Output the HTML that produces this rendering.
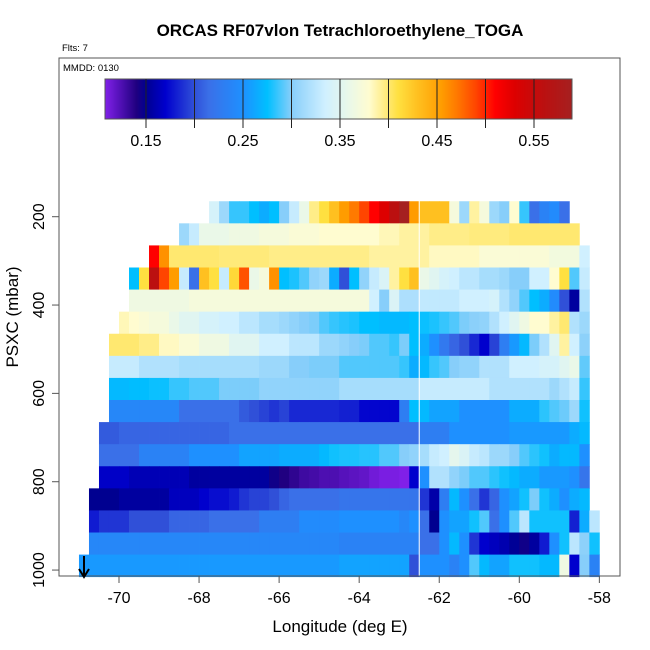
<!DOCTYPE html>
<html><head><meta charset="utf-8"><style>
body{margin:0;background:#fff}
svg{display:block;font-family:"Liberation Sans",sans-serif}
</style></head><body>
<svg id="c" width="650" height="650" viewBox="0 0 650 650">
<text x="340" y="36" text-anchor="middle" font-size="17" font-weight="bold">ORCAS RF07vlon Tetrachloroethylene_TOGA</text>
<text x="62" y="51" font-size="9.5">Flts: 7</text>
<g id="cells"></g>
<g id="cbar"></g>
<rect x="59" y="58" width="561" height="518" fill="none" stroke="#555" stroke-width="1"/>
<text x="63" y="71" font-size="9.5">MMDD: 0130</text>
<g id="axes"></g>
<text x="340" y="632" text-anchor="middle" font-size="17">Longitude (deg E)</text>
<text transform="translate(18,317) rotate(-90)" text-anchor="middle" font-size="17">PSXC (mbar)</text>
<g><line x1="84" y1="556" x2="84" y2="576" stroke="#000" stroke-width="2"/><path d="M79,569 L84,577 L89,569" fill="none" stroke="#000" stroke-width="2"/></g>
</svg>
<script>
const rowPressure=[190,240,290,340,390,440,490,540,590,640,690,740,790,840,890,940,990];
const rowStartCol=[13,10,7,5,5,4,3,3,3,3,2,2,2,1,1,1,0];
const r0=[0.34,0.31,0.285,0.285,0.275,0.265,0.275,0.3,0.33,0.36,0.395,0.41,0.43,0.455,0.47,0.49,0.51,0.53,0.56,0.59,0.455,0.43,0.43,0.43,0.37,0.31,0.39,0.37,0.31,0.3,0.38,0.285,0.215,0.235,0.245,0.215];
const r1=[0.31,0.33,0.36,0.36,0.36,0.365,0.365,0.365,0.37,0.37,0.37,0.375,0.375,0.375,0.38,0.38,0.38,0.38,0.38,0.38,0.385,0.385,0.39,0.39,0.39,0.395,0.395,0.395,0.395,0.397,0.397,0.397,0.397,0.4,0.4,0.4,0.4,0.4,0.4,0.4];
const r2=[0.51,0.46,0.4,0.4,0.4,0.4,0.4,0.398,0.398,0.398,0.398,0.398,0.395,0.395,0.395,0.395,0.395,0.395,0.395,0.395,0.395,0.395,0.39,0.39,0.39,0.39,0.39,0.39,0.383,0.383,0.383,0.383,0.383,0.375,0.375,0.375,0.375,0.375,0.375,0.375,0.368,0.368,0.368,0.335];
const r3=[0.275,0.41,0.56,0.49,0.455,0.33,0.215,0.43,0.41,0.33,0.415,0.485,0.36,0.37,0.46,0.275,0.28,0.29,0.305,0.31,0.265,0.2,0.275,0.305,0.33,0.345,0.39,0.41,0.43,0.36,0.35,0.34,0.335,0.325,0.325,0.315,0.315,0.31,0.3,0.3,0.335,0.335,0.38,0.41,0.29,0.33];
const r4=[0.365,0.365,0.365,0.365,0.365,0.365,0.37,0.37,0.37,0.37,0.37,0.37,0.37,0.37,0.37,0.37,0.37,0.37,0.37,0.37,0.37,0.37,0.37,0.37,0.335,0.3,0.345,0.318,0.318,0.328,0.328,0.328,0.328,0.335,0.335,0.335,0.34,0.32,0.305,0.29,0.275,0.265,0.245,0.2,0.155,0.32];
const r5=[0.385,0.38,0.375,0.37,0.37,0.36,0.35,0.35,0.34,0.34,0.335,0.335,0.325,0.325,0.315,0.315,0.31,0.305,0.3,0.298,0.29,0.285,0.282,0.28,0.275,0.275,0.272,0.272,0.272,0.275,0.277,0.28,0.285,0.29,0.298,0.302,0.305,0.32,0.335,0.35,0.365,0.38,0.38,0.39,0.4,0.32,0.31];
const r6=[0.4,0.4,0.4,0.395,0.395,0.383,0.383,0.375,0.375,0.365,0.365,0.365,0.35,0.35,0.35,0.335,0.335,0.335,0.325,0.325,0.325,0.31,0.31,0.305,0.3,0.298,0.29,0.29,0.285,0.298,0.275,0.265,0.25,0.225,0.21,0.2,0.185,0.17,0.195,0.23,0.255,0.272,0.298,0.32,0.35,0.39,0.335,0.303];
const r7=[0.33,0.33,0.33,0.32,0.32,0.32,0.32,0.315,0.315,0.315,0.315,0.315,0.315,0.315,0.315,0.31,0.31,0.31,0.3,0.3,0.298,0.298,0.298,0.29,0.29,0.29,0.29,0.29,0.29,0.285,0.265,0.272,0.285,0.29,0.3,0.305,0.305,0.32,0.32,0.32,0.335,0.335,0.335,0.34,0.34,0.35,0.36,0.293];
const r8=[0.272,0.272,0.274,0.274,0.277,0.277,0.285,0.285,0.29,0.29,0.29,0.298,0.298,0.298,0.298,0.305,0.305,0.305,0.305,0.305,0.305,0.305,0.305,0.315,0.315,0.315,0.315,0.315,0.315,0.315,0.315,0.33,0.33,0.33,0.33,0.33,0.33,0.33,0.32,0.32,0.32,0.32,0.32,0.32,0.31,0.32,0.33,0.285];
const r9=[0.24,0.24,0.24,0.24,0.24,0.24,0.24,0.215,0.215,0.215,0.215,0.215,0.215,0.205,0.2,0.195,0.19,0.195,0.185,0.185,0.185,0.185,0.185,0.182,0.182,0.172,0.172,0.172,0.172,0.23,0.275,0.272,0.26,0.26,0.26,0.25,0.25,0.25,0.25,0.25,0.265,0.265,0.265,0.283,0.29,0.295,0.31,0.278];
const r10=[0.205,0.205,0.21,0.21,0.21,0.21,0.21,0.21,0.21,0.21,0.21,0.21,0.21,0.215,0.215,0.215,0.215,0.215,0.215,0.215,0.215,0.215,0.215,0.215,0.215,0.215,0.215,0.215,0.215,0.215,0.215,0.215,0.23,0.23,0.23,0.25,0.25,0.25,0.25,0.25,0.25,0.255,0.255,0.255,0.255,0.255,0.255,0.265,0.272];
const r11=[0.215,0.215,0.215,0.215,0.235,0.235,0.235,0.235,0.235,0.25,0.25,0.25,0.25,0.25,0.26,0.26,0.26,0.26,0.265,0.265,0.265,0.265,0.272,0.278,0.28,0.28,0.282,0.282,0.29,0.29,0.3,0.305,0.315,0.33,0.335,0.355,0.345,0.33,0.325,0.31,0.31,0.3,0.29,0.283,0.278,0.265,0.272,0.272,0.25];
const r12=[0.168,0.168,0.168,0.162,0.162,0.162,0.162,0.162,0.162,0.155,0.155,0.155,0.155,0.155,0.155,0.155,0.155,0.145,0.14,0.135,0.13,0.128,0.125,0.125,0.122,0.12,0.118,0.113,0.11,0.11,0.108,0.17,0.25,0.32,0.32,0.305,0.298,0.29,0.29,0.283,0.278,0.272,0.265,0.265,0.255,0.255,0.255,0.25,0.22];
const r13=[0.15,0.15,0.15,0.155,0.155,0.155,0.155,0.155,0.165,0.165,0.165,0.17,0.175,0.175,0.18,0.19,0.195,0.195,0.2,0.21,0.215,0.215,0.215,0.215,0.215,0.22,0.22,0.22,0.22,0.22,0.22,0.22,0.22,0.19,0.158,0.23,0.272,0.25,0.215,0.19,0.21,0.25,0.26,0.278,0.298,0.278,0.265,0.25,0.265,0.272];
const r14=[0.18,0.19,0.19,0.19,0.2,0.2,0.2,0.2,0.21,0.21,0.21,0.21,0.215,0.215,0.215,0.215,0.215,0.23,0.23,0.23,0.23,0.245,0.245,0.245,0.245,0.25,0.25,0.25,0.25,0.25,0.25,0.24,0.25,0.215,0.15,0.25,0.26,0.26,0.278,0.29,0.215,0.25,0.29,0.325,0.278,0.278,0.278,0.278,0.182,0.265,0.325];
const r15=[0.24,0.24,0.24,0.24,0.24,0.24,0.24,0.24,0.24,0.24,0.24,0.24,0.24,0.24,0.24,0.24,0.24,0.24,0.24,0.24,0.24,0.24,0.24,0.24,0.24,0.235,0.235,0.235,0.235,0.235,0.235,0.235,0.235,0.215,0.215,0.25,0.272,0.25,0.19,0.17,0.165,0.16,0.152,0.145,0.155,0.18,0.25,0.278,0.325,0.303,0.278];
const r16=[0.255,0.255,0.255,0.255,0.255,0.255,0.255,0.255,0.255,0.255,0.255,0.255,0.255,0.255,0.255,0.255,0.255,0.255,0.255,0.255,0.255,0.255,0.255,0.255,0.255,0.255,0.26,0.26,0.26,0.26,0.26,0.26,0.26,0.2,0.25,0.25,0.25,0.235,0.25,0.29,0.272,0.26,0.26,0.278,0.278,0.278,0.272,0.272,0.365,0.17,0.3,0.235];
const rowValues=[r0,r1,r2,r3,r4,r5,r6,r7,r8,r9,r10,r11,r12,r13,r14,r15,r16];
const xTicks=[-70,-68,-66,-64,-62,-60,-58];
const yTicks=[200,400,600,800,1000];
const cbTicks=[0.15,0.25,0.35,0.45,0.55];
const cbLines=[0.15,0.2,0.25,0.3,0.35,0.4,0.45,0.5,0.55];

const NS='http://www.w3.org/2000/svg';
const xs=l=>119+(l+70)*40.03;
const ys=p=>216.7+(p-200)*0.4417;
const cx=v=>146+(v-0.15)*970;
const stops=[[0.108,'#8020e8'],[0.14,'#200080'],[0.15,'#000090'],[0.17,'#0000cd'],[0.2,'#3050d8'],[0.215,'#3a70e8'],[0.25,'#1e90ff'],[0.275,'#00bfff'],[0.3,'#87cefa'],[0.335,'#d0f0ff'],[0.36,'#eaf8e8'],[0.38,'#fffcd0'],[0.4,'#ffe870'],[0.41,'#ffe040'],[0.43,'#ffc020'],[0.455,'#ff9c00'],[0.47,'#ff7a00'],[0.49,'#ff4500'],[0.51,'#ff0000'],[0.53,'#dd0000'],[0.56,'#bb1010'],[0.59,'#a52020']];
function hex(h){return[1,3,5].map(i=>parseInt(h.substr(i,2),16));}
function col(v){
  if(v<=stops[0][0])return stops[0][1];
  for(let i=1;i<stops.length;i++){if(v<=stops[i][0]){const a=hex(stops[i-1][1]),b=hex(stops[i][1]);const t=(v-stops[i-1][0])/(stops[i][0]-stops[i-1][0]);return 'rgb('+a.map((x,k)=>Math.round(x+(b[k]-x)*t)).join(',')+')';}}
  return stops[stops.length-1][1];
}
function mk(tag,attrs,parent){const e=document.createElementNS(NS,tag);for(const k in attrs)e.setAttribute(k,attrs[k]);parent.appendChild(e);return e;}

const cells=document.getElementById('cells');
rowValues.forEach((vals,r)=>{
  const p=rowPressure[r];
  vals.forEach((v,i)=>{
    const lon=-71+0.25*(rowStartCol[r]+i);
    const x0=xs(lon),x1=xs(lon+0.25),y0=ys(p-25),y1=ys(p+25);
    const e=mk('rect',{x:x0.toFixed(2),y:y0.toFixed(2),width:(x1-x0+0.4).toFixed(2),height:(y1-y0+0.4).toFixed(2),fill:col(v)},cells);
    
    
  });
});
const wl=mk('line',{x1:xs(-62.5),x2:xs(-62.5),y1:201,y2:576,stroke:'#fff','stroke-width':1},cells);



const cb=document.getElementById('cbar');
for(let x=105;x<572;x++){
  const v=0.15+(x+0.5-146)/970;
  mk('rect',{x:x,y:79,width:1.3,height:40,fill:col(v)},cb);
}
mk('rect',{x:105,y:79,width:467,height:40,fill:'none',stroke:'#555','stroke-width':1},cb);
cbLines.forEach(v=>{
  const l=mk('line',{x1:cx(v),x2:cx(v),y1:79,y2:128,stroke:'#222','stroke-width':1},cb);
  
  
});
cbTicks.forEach(v=>{
  const t=mk('text',{x:cx(v),y:146,'text-anchor':'middle','font-size':16},cb);
  t.textContent=v.toFixed(2);
  
  
});

const ax=document.getElementById('axes');
mk('line',{x1:xs(-70),x2:xs(-58),y1:576,y2:576,stroke:'#555'},ax);
xTicks.forEach(v=>{
  mk('line',{x1:xs(v),x2:xs(v),y1:576,y2:583,stroke:'#555'},ax);
  const t=mk('text',{x:xs(v),y:603,'text-anchor':'middle','font-size':16},ax);
  t.textContent=v;
  
  
});
mk('line',{x1:59,x2:59,y1:ys(200),y2:ys(1000),stroke:'#555'},ax);
yTicks.forEach(v=>{
  mk('line',{x1:52,x2:59,y1:ys(v),y2:ys(v),stroke:'#555'},ax);
  const t=mk('text',{transform:'translate(44,'+ys(v)+') rotate(-90)','text-anchor':'middle','font-size':16},ax);
  t.textContent=v;
  
  
});
</script>
</body></html>
